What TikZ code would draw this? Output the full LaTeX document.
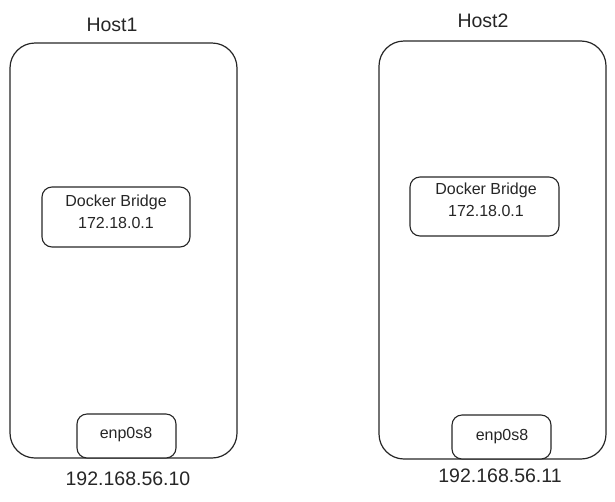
\documentclass[tikz,border=0pt]{standalone}
\usepackage{fontspec}
\setmainfont{Liberation Sans}
\begin{document}
\begin{tikzpicture}[x=1pt,y=-1pt,
  hostbox/.style={draw=black!85,line width=1.2pt,rounded corners=25pt},
  innerbox/.style={draw=black!85,line width=1.1pt,rounded corners=10pt},
  big/.style={font=\fontsize{19.5}{22}\selectfont,text=black!85},
  small/.style={font=\fontsize{16}{22}\selectfont,text=black!85,align=center}]
\useasboundingbox (0,0) rectangle (615,501);
% Host1
\draw[hostbox] (10,43) rectangle (237,458);
\node[big] (h1) at (112,25) {Host1};
\draw[innerbox] (42,187) rectangle (190,247);
\node[small] (db1) at (116,212) {Docker Bridge\\172.18.0.1};
\draw[innerbox,fill=white] (77,414) rectangle (176,458);
\node[small] (e1) at (126,435) {enp0s8};
\node[big] (ip1) at (128,479) {192.168.56.10};
% Host2
\draw[hostbox] (379,41) rectangle (606,459);
\node[big] (h2) at (483,21) {Host2};
\draw[innerbox] (410,177) rectangle (559,236);
\node[small] (db2) at (486,200) {Docker Bridge\\172.18.0.1};
\draw[innerbox,fill=white] (452,415) rectangle (551,459);
\node[small] (e2) at (502,437) {enp0s8};
\node[big] (ip2) at (500,476) {192.168.56.11};
\end{tikzpicture}
\end{document}
